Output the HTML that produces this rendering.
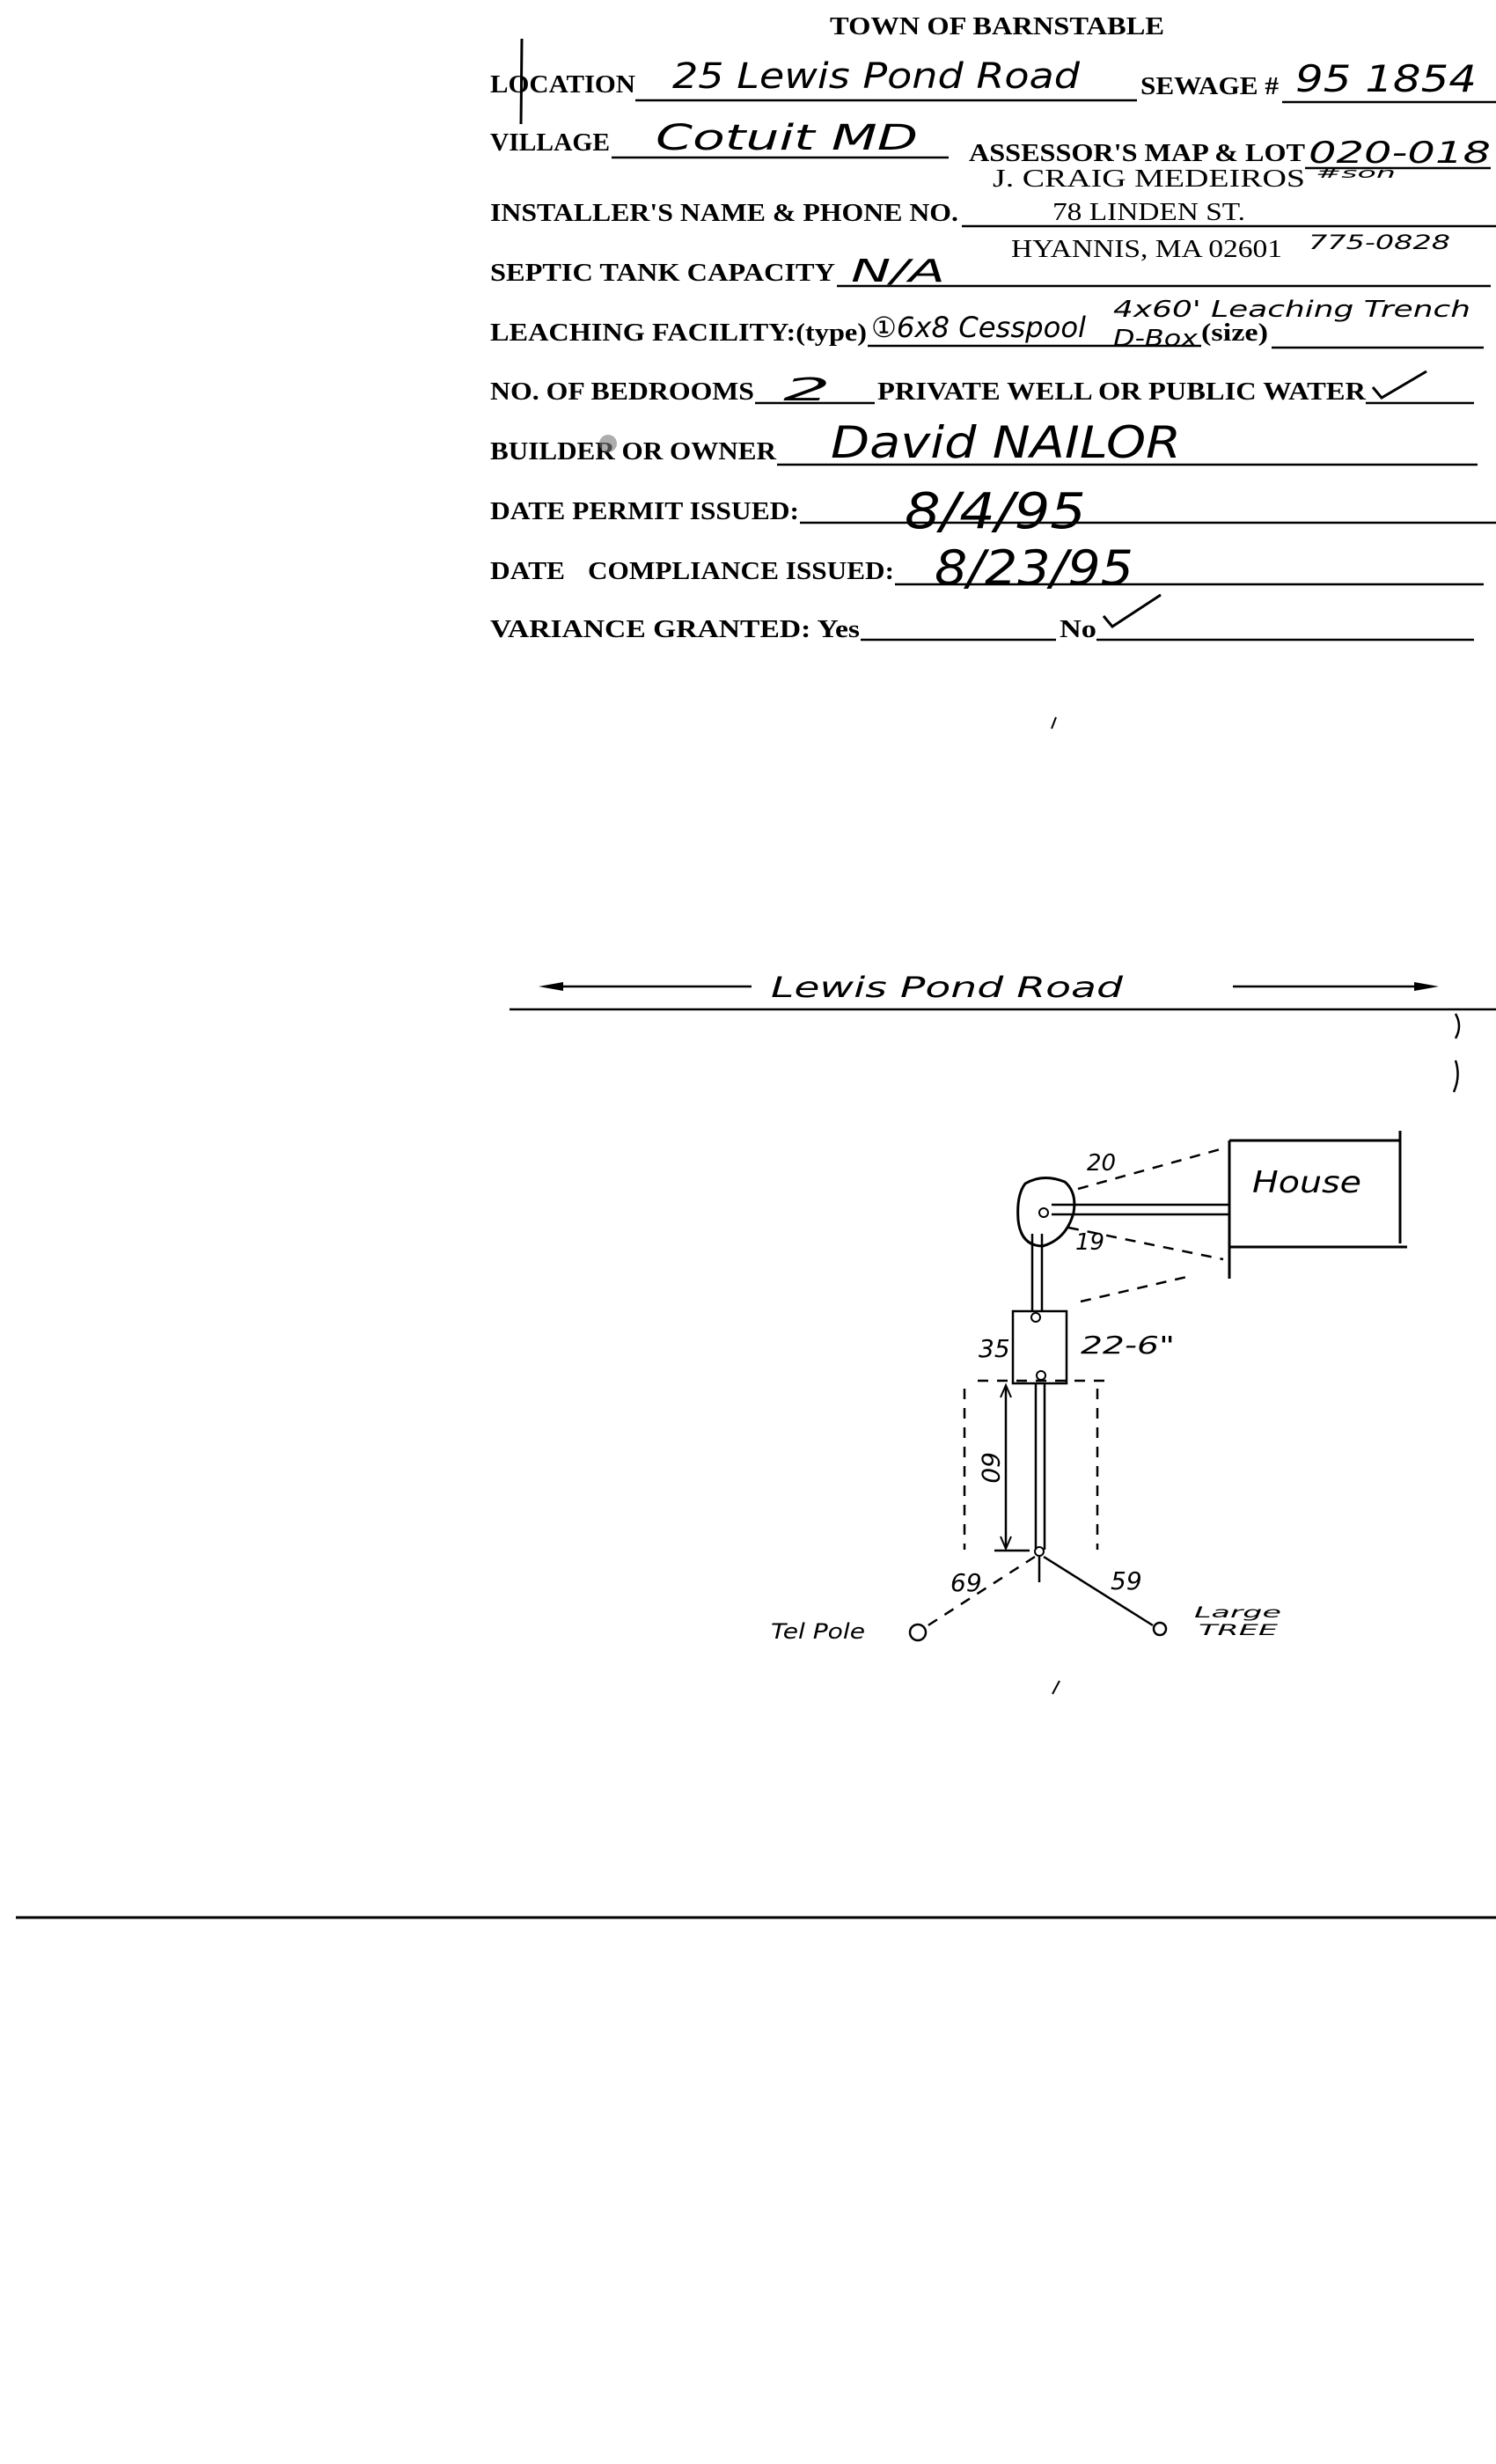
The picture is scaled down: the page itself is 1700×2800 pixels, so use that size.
<!DOCTYPE html>
<html><head><meta charset="utf-8"><style>
html,body{margin:0;padding:0;background:#fff;}
svg{display:block;}
.f{font-family:"Liberation Serif",serif;font-weight:bold;font-size:29px;fill:#000;}
.n{font-family:"Liberation Serif",serif;font-size:29px;fill:#000;}
.h{font-family:"DejaVu Sans","Liberation Sans",sans-serif;font-style:italic;fill:#000;}
</style></head><body>
<svg width="1700" height="2800" viewBox="0 0 1700 2800" xmlns="http://www.w3.org/2000/svg">
<rect width="1700" height="2800" fill="#fff"/>
<g stroke="#000" stroke-width="2.5" fill="none">
<line x1="722" y1="114" x2="1292" y2="114"/>
<line x1="1457" y1="116" x2="1700" y2="116"/>
<line x1="695" y1="179" x2="1078" y2="179"/>
<line x1="1483" y1="191" x2="1694" y2="191"/>
<line x1="1093" y1="257" x2="1700" y2="257"/>
<line x1="951" y1="325" x2="1694" y2="325"/>
<line x1="986" y1="393" x2="1365" y2="393"/>
<line x1="1445" y1="395" x2="1686" y2="395"/>
<line x1="858" y1="458" x2="994" y2="458"/>
<line x1="1552" y1="458" x2="1675" y2="458"/>
<line x1="883" y1="528" x2="1679" y2="528"/>
<line x1="909" y1="594" x2="1700" y2="594"/>
<line x1="1017" y1="664" x2="1686" y2="664"/>
<line x1="978" y1="727" x2="1200" y2="727"/>
<line x1="1246" y1="727" x2="1675" y2="727"/>
<line x1="593" y1="44" x2="592" y2="141" stroke-width="3"/>
</g>
<g lengthAdjust="spacingAndGlyphs">
<text class="f" x="943" y="39" textLength="380" lengthAdjust="spacingAndGlyphs">TOWN OF BARNSTABLE</text>
<text class="f" x="557" y="105" textLength="165" lengthAdjust="spacingAndGlyphs">LOCATION</text>
<text class="f" x="1296" y="107" textLength="157" lengthAdjust="spacingAndGlyphs">SEWAGE #</text>
<text class="f" x="557" y="171" textLength="136" lengthAdjust="spacingAndGlyphs">VILLAGE</text>
<text class="f" x="1101" y="183" textLength="382" lengthAdjust="spacingAndGlyphs">ASSESSOR'S MAP &amp; LOT</text>
<text class="n" x="1128" y="212" textLength="355" lengthAdjust="spacingAndGlyphs">J. CRAIG MEDEIROS</text>
<text class="f" x="557" y="251" textLength="532" lengthAdjust="spacingAndGlyphs">INSTALLER'S NAME &amp; PHONE NO.</text>
<text class="n" x="1196" y="250" font-size="27" textLength="219" lengthAdjust="spacingAndGlyphs">78 LINDEN ST.</text>
<text class="n" x="1149" y="292" font-size="27" textLength="308" lengthAdjust="spacingAndGlyphs">HYANNIS, MA 02601</text>
<text class="f" x="557" y="319" textLength="392" lengthAdjust="spacingAndGlyphs">SEPTIC TANK CAPACITY</text>
<text class="f" x="557" y="387" textLength="428" lengthAdjust="spacingAndGlyphs">LEACHING FACILITY:(type)</text>
<text class="f" x="1365" y="387" textLength="76" lengthAdjust="spacingAndGlyphs">(size)</text>
<text class="f" x="557" y="454" textLength="300" lengthAdjust="spacingAndGlyphs">NO. OF BEDROOMS</text>
<text class="f" x="997" y="454" textLength="555" lengthAdjust="spacingAndGlyphs">PRIVATE WELL OR PUBLIC WATER</text>
<text class="f" x="557" y="522" textLength="325" lengthAdjust="spacingAndGlyphs">BUILDER OR OWNER</text>
<text class="f" x="557" y="590" textLength="351" lengthAdjust="spacingAndGlyphs">DATE PERMIT ISSUED:</text>
<text class="f" x="557" y="658" textLength="85" lengthAdjust="spacingAndGlyphs">DATE</text>
<text class="f" x="668" y="658" textLength="348" lengthAdjust="spacingAndGlyphs">COMPLIANCE ISSUED:</text>
<text class="f" x="557" y="724" textLength="420" lengthAdjust="spacingAndGlyphs">VARIANCE GRANTED:  Yes</text>
<text class="f" x="1204" y="724" textLength="42" lengthAdjust="spacingAndGlyphs">No</text>
</g>
<circle cx="691" cy="504" r="10" fill="#777" opacity="0.6"/>
<text class="h" x="764" y="100" font-size="40" textLength="463" lengthAdjust="spacingAndGlyphs">25 Lewis Pond Road</text>
<text class="h" x="1472" y="104" font-size="42" textLength="206" lengthAdjust="spacingAndGlyphs">95 1854</text>
<text class="h" x="745" y="170" font-size="40" textLength="298" lengthAdjust="spacingAndGlyphs">Cotuit MD</text>
<text class="h" x="1487" y="185" font-size="34" textLength="207" lengthAdjust="spacingAndGlyphs">020-018</text>
<text class="h" x="1495" y="202" font-size="16" textLength="91" lengthAdjust="spacingAndGlyphs">#son</text>
<text class="h" x="1487" y="283" font-size="22" textLength="161" lengthAdjust="spacingAndGlyphs">775-0828</text>
<text class="h" x="967" y="320" font-size="36" textLength="107" lengthAdjust="spacingAndGlyphs">N/A</text>
<text class="h" x="990" y="383" font-size="32" textLength="244" lengthAdjust="spacingAndGlyphs">①6x8 Cesspool</text>
<text class="h" x="1265" y="360" font-size="26" textLength="406" lengthAdjust="spacingAndGlyphs">4x60' Leaching Trench</text>
<text class="h" x="1265" y="393" font-size="26" textLength="96" lengthAdjust="spacingAndGlyphs">D-Box</text>
<text class="h" x="890" y="455" font-size="36" textLength="54" lengthAdjust="spacingAndGlyphs">2</text>
<text class="h" x="944" y="520" font-size="50" textLength="398" lengthAdjust="spacingAndGlyphs">David NAILOR</text>
<text class="h" x="1028" y="600" font-size="56" textLength="206" lengthAdjust="spacingAndGlyphs">8/4/95</text>
<text class="h" x="1062" y="664" font-size="54" textLength="226" lengthAdjust="spacingAndGlyphs">8/23/95</text>
<g stroke="#000" stroke-width="3" fill="none">
<polyline points="1560,440 1570,452 1621,422"/>
<polyline points="1254,700 1264,712 1319,676"/>
<line x1="1200" y1="815" x2="1195" y2="828" stroke-width="2"/>
</g>
<g stroke="#000" fill="none">
<line x1="579" y1="1147" x2="1700" y2="1147" stroke-width="2.5"/>
<line x1="625" y1="1121" x2="854" y2="1121" stroke-width="2.5"/>
<line x1="1401" y1="1121" x2="1625" y2="1121" stroke-width="2.5"/>
<path d="M1654 1152 q8 14 0 28 M1654 1205 q6 18 -2 36" stroke-width="2.5"/>
<line x1="1397" y1="1296" x2="1397" y2="1453" stroke-width="3"/>
<line x1="1397" y1="1296" x2="1591" y2="1296" stroke-width="3"/>
<line x1="1591" y1="1285" x2="1591" y2="1413" stroke-width="3"/>
<line x1="1397" y1="1417" x2="1599" y2="1417" stroke-width="3"/>
<path d="M1165 1345 q20 -12 45 -2 q14 12 10 35 q-8 30 -35 38 q-25 0 -28 -30 q-2 -28 8 -41z" stroke-width="3"/>
<circle cx="1186" cy="1378" r="5" stroke-width="2"/>
<line x1="1195" y1="1369" x2="1397" y2="1369" stroke-width="2.5"/>
<line x1="1195" y1="1380" x2="1397" y2="1380" stroke-width="2.5"/>
<line x1="1173" y1="1402" x2="1173" y2="1490" stroke-width="2.5"/>
<line x1="1184" y1="1402" x2="1184" y2="1490" stroke-width="2.5"/>
<rect x="1151" y="1490" width="61" height="82" stroke-width="2.5"/>
<circle cx="1177" cy="1497" r="5" stroke-width="2"/>
<circle cx="1183" cy="1563" r="5" stroke-width="2"/>
<line x1="1177" y1="1572" x2="1177" y2="1761" stroke-width="2.5"/>
<line x1="1187" y1="1572" x2="1187" y2="1761" stroke-width="2.5"/>
<circle cx="1181" cy="1763" r="5" stroke-width="2"/>
<line x1="1181" y1="1768" x2="1181" y2="1798" stroke-width="2.5"/>
<line x1="1143" y1="1575" x2="1143" y2="1758" stroke-width="2.5"/>
<polyline points="1137,1588 1143,1574 1149,1588" stroke-width="2"/>
<polyline points="1137,1746 1143,1760 1149,1746" stroke-width="2"/>
<line x1="1130" y1="1762" x2="1170" y2="1762" stroke-width="2.5"/>
<g stroke-dasharray="12,10" stroke-width="2.5">
<line x1="1111" y1="1569" x2="1258" y2="1569"/>
<line x1="1096" y1="1578" x2="1096" y2="1761"/>
<line x1="1247" y1="1578" x2="1247" y2="1761"/>
<line x1="1225" y1="1351" x2="1390" y2="1305"/>
<line x1="1214" y1="1395" x2="1390" y2="1431"/>
<line x1="1228" y1="1479" x2="1353" y2="1450"/>
<line x1="1176" y1="1769" x2="1050" y2="1850"/>
</g>
<line x1="1186" y1="1769" x2="1310" y2="1847" stroke-width="2.5"/>
<circle cx="1043" cy="1855" r="9" stroke-width="2.5"/>
<circle cx="1318" cy="1851" r="7" stroke-width="2.5"/>
<line x1="1204" y1="1910" x2="1196" y2="1925" stroke-width="2"/>
<line x1="18" y1="2179" x2="1700" y2="2179" stroke-width="3"/>
</g>
<polygon points="612,1121 640,1116 640,1126" fill="#000"/>
<polygon points="1635,1121 1607,1116 1607,1126" fill="#000"/>
<text class="h" x="876" y="1133" font-size="32" textLength="400" lengthAdjust="spacingAndGlyphs">Lewis Pond Road</text>
<text class="h" x="1423" y="1355" font-size="34" textLength="124" lengthAdjust="spacingAndGlyphs">House</text>
<text class="h" x="1235" y="1330" font-size="26">20</text>
<text class="h" x="1222" y="1420" font-size="26">19</text>
<text class="h" x="1112" y="1542" font-size="28">35</text>
<text class="h" x="1228" y="1538" font-size="28" textLength="107" lengthAdjust="spacingAndGlyphs">22-6"</text>
<text class="h" x="1120" y="1672" font-size="28" transform="rotate(90 1129 1659)">60</text>
<text class="h" x="1080" y="1808" font-size="28">69</text>
<text class="h" x="1262" y="1806" font-size="28">59</text>
<text class="h" x="876" y="1862" font-size="24" textLength="107" lengthAdjust="spacingAndGlyphs">Tel Pole</text>
<text class="h" x="1357" y="1838" font-size="17" textLength="99" lengthAdjust="spacingAndGlyphs">Large</text>
<text class="h" x="1362" y="1858" font-size="17" textLength="90" lengthAdjust="spacingAndGlyphs">TREE</text>
</svg>
</body></html>
